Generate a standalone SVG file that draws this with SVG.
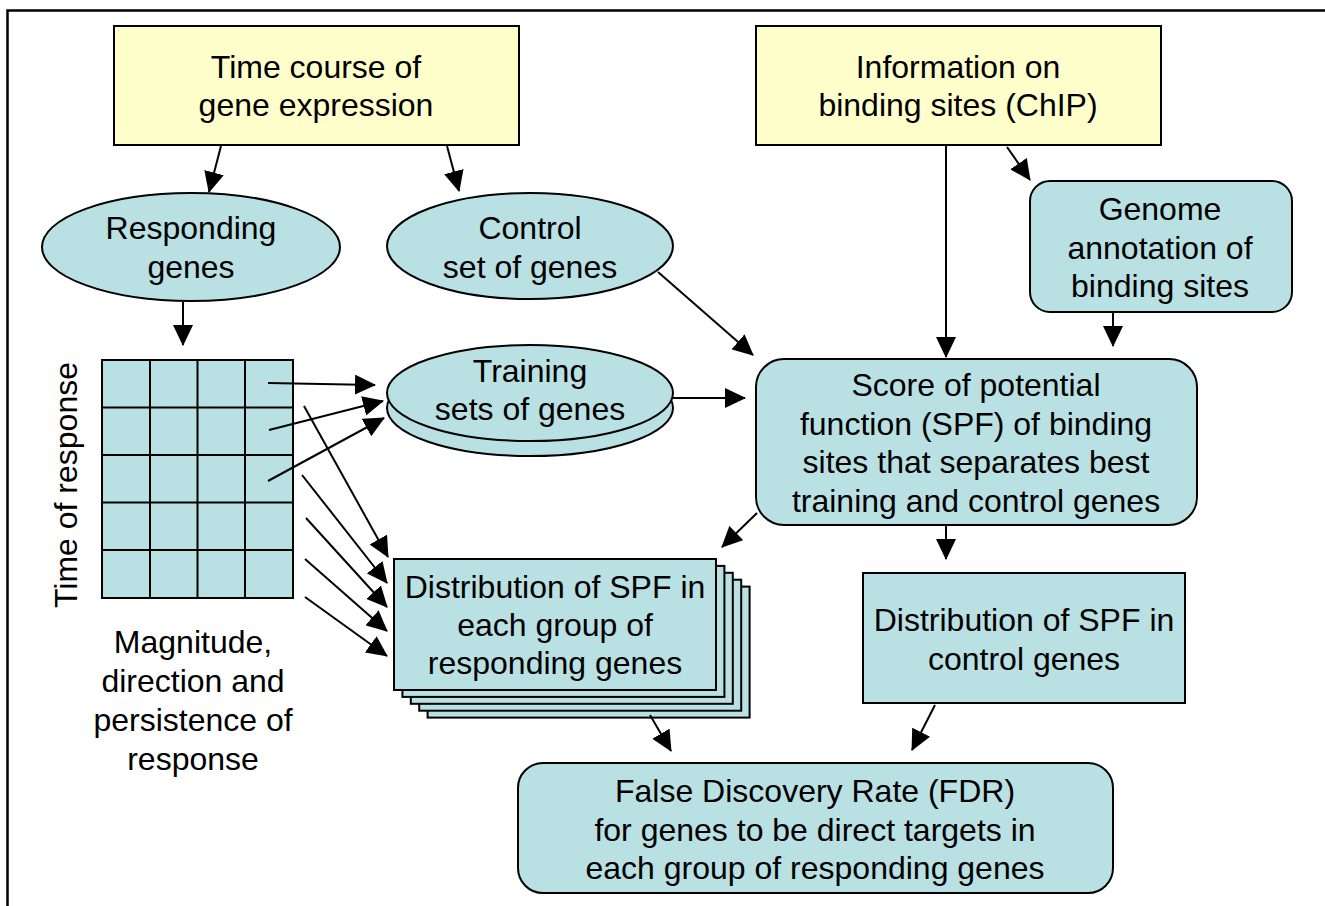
<svg xmlns="http://www.w3.org/2000/svg" width="1325" height="906" viewBox="0 0 1325 906">
<style>
text{font-family:"Liberation Sans",Arial,sans-serif;font-size:32px;fill:#000;text-anchor:middle}
.y{fill:#FFFFCC;stroke:#000;stroke-width:2}
.b{fill:#B9E0E3;stroke:#000;stroke-width:2}
.c line{stroke:#000;stroke-width:2;marker-end:url(#ah)}
.g{fill:none;stroke:#000;stroke-width:2}
</style>
<defs>
<marker id="ah" markerUnits="userSpaceOnUse" markerWidth="21" markerHeight="20" viewBox="0 0 21 20" refX="20" refY="10" orient="auto">
<path d="M0,0 L21,10 L0,20 z" fill="#000"/>
</marker>
</defs>
<rect x="7.5" y="10.5" width="1330" height="910" fill="#fff" stroke="#000" stroke-width="2.5"/>

<g id="timecourse">
<rect class="y" x="114" y="26" width="405" height="119"/>
<text x="316" y="78">Time course of</text>
<text x="316" y="116">gene expression</text>
</g>
<g id="information">
<rect class="y" x="756" y="26" width="405" height="119"/>
<text x="958" y="78">Information on</text>
<text x="958" y="116">binding sites (ChIP)</text>
</g>
<g id="responding">
<ellipse class="b" cx="191" cy="247" rx="149" ry="54"/>
<text x="191" y="239">Responding</text>
<text x="191" y="278">genes</text>
</g>
<g id="control">
<ellipse class="b" cx="530" cy="246" rx="143" ry="53"/>
<text x="530" y="239">Control</text>
<text x="530" y="278">set of genes</text>
</g>
<g id="genome">
<rect class="b" x="1030" y="181" width="262" height="131" rx="20"/>
<text x="1160" y="220">Genome</text>
<text x="1160" y="259">annotation of</text>
<text x="1160" y="297">binding sites</text>
</g>
<g id="training">
<ellipse class="b" cx="530" cy="408" rx="143" ry="48"/>
<ellipse class="b" cx="530" cy="393" rx="143" ry="48"/>
<text x="530" y="382">Training</text>
<text x="530" y="420">sets of genes</text>
</g>
<g id="grid">
<rect class="b" x="102" y="360" width="191" height="238"/>
<path class="g" d="M150,360V598M197.5,360V598M245,360V598M102,407.5H293M102,455H293M102,502.5H293M102,550H293"/>
<text transform="translate(77,485) rotate(-90)" x="0" y="0">Time of response</text>
<text x="193" y="653">Magnitude,</text>
<text x="193" y="692">direction and</text>
<text x="193" y="731">persistence of</text>
<text x="193" y="770">response</text>
</g>
<g id="spf">
<rect class="b" x="756" y="359" width="441" height="166" rx="28"/>
<text x="976" y="396">Score of potential</text>
<text x="976" y="435">function (SPF) of binding</text>
<text x="976" y="473">sites that separates best</text>
<text x="976" y="512">training and control genes</text>
</g>
<g id="distgroups">
<rect class="b" x="427.6" y="586.6" width="322" height="131"/>
<rect class="b" x="419.2" y="579.7" width="322" height="131"/>
<rect class="b" x="410.8" y="572.8" width="322" height="131"/>
<rect class="b" x="402.4" y="565.9" width="322" height="131"/>
<rect class="b" x="394" y="559" width="322" height="131"/>
<text x="555" y="598">Distribution of SPF in</text>
<text x="555" y="636">each group of</text>
<text x="555" y="674">responding genes</text>
</g>
<g id="distcontrol">
<rect class="b" x="863" y="573" width="322" height="130"/>
<text x="1024" y="631">Distribution of SPF in</text>
<text x="1024" y="670">control genes</text>
</g>
<g id="fdr">
<rect class="b" x="518" y="763" width="595" height="130" rx="25"/>
<text x="815" y="802">False Discovery Rate (FDR)</text>
<text x="815" y="841">for genes to be direct targets in</text>
<text x="815" y="879">each group of responding genes</text>
</g>

<g id="connectors" class="c">
<line x1="221" y1="146" x2="209" y2="192"/>
<line x1="447" y1="146" x2="459" y2="191"/>
<line x1="946" y1="146" x2="946" y2="357"/>
<line x1="1007" y1="147" x2="1030" y2="180"/>
<line x1="1113" y1="312" x2="1113" y2="346"/>
<line x1="183" y1="302" x2="183" y2="345"/>
<line x1="658" y1="272" x2="753" y2="355"/>
<line x1="673" y1="398" x2="745" y2="398"/>
<line x1="268" y1="383" x2="375" y2="385"/>
<line x1="269" y1="430" x2="383" y2="401"/>
<line x1="268" y1="481" x2="384" y2="418"/>
<line x1="304" y1="406" x2="388" y2="557"/>
<line x1="302" y1="475" x2="387" y2="583"/>
<line x1="306" y1="518" x2="387" y2="607"/>
<line x1="305" y1="559" x2="387" y2="631"/>
<line x1="305" y1="597" x2="387" y2="656"/>
<line x1="757" y1="513" x2="722" y2="547"/>
<line x1="946" y1="525" x2="946" y2="559"/>
<line x1="650" y1="715" x2="671" y2="751"/>
<line x1="935" y1="705" x2="912" y2="750"/>
</g>
</svg>
